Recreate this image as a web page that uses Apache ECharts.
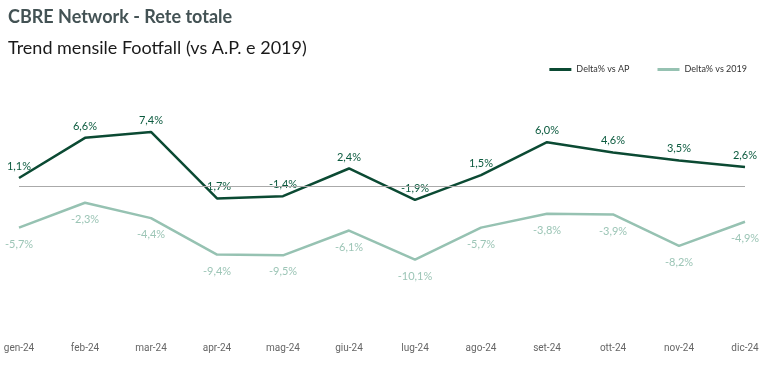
<!DOCTYPE html>
<html>
<head>
<meta charset="utf-8">
<script src="https://cdn.jsdelivr.net/npm/echarts@6/dist/echarts.min.js"></script>
<style>
  html, body { margin: 0; padding: 0; background: #fff; }
  #chart { width: 772px; height: 367px; }
</style>
</head>
<body>
<div id="chart"></div>
<script>
const months = ['gen-24', 'feb-24', 'mar-24', 'apr-24', 'mag-24', 'giu-24', 'lug-24', 'ago-24', 'set-24', 'ott-24', 'nov-24', 'dic-24']
const deltaAP = [1.1, 6.6, 7.4, -1.7, -1.4, 2.4, -1.9, 1.5, 6.0, 4.6, 3.5, 2.6]
const delta2019 = [-5.7, -2.3, -4.4, -9.4, -9.5, -6.1, -10.1, -5.7, -3.8, -3.9, -8.2, -4.9]

const fmt = p => p.value.toFixed(1).replace('.', ',') + '%'

const myChart = echarts.init(document.getElementById('chart'))
myChart.setOption({
  animation: false,
  title: [
    {
      text: 'CBRE Network - Rete totale',
      left: 3,
      top: 3,
      textStyle: { fontFamily: 'Lato', fontWeight: 'bold', fontSize: 18, color: '#435254' }
    },
    {
      text: 'Trend mensile Footfall (vs A.P. e 2019)',
      left: 3,
      top: 34,
      textStyle: { fontFamily: 'Lato', fontWeight: 'normal', fontSize: 18, color: '#1a1a1a' }
    }
  ],
  legend: {
    right: 20,
    top: 60,
    itemWidth: 22,
    itemHeight: 3,
    itemGap: 28,
    icon: 'rect',
    textStyle: { fontFamily: 'Lato', fontSize: 9, color: '#333' },
    data: ['Delta% vs AP', 'Delta% vs 2019']
  },
  grid: { left: 19, right: 27, top: 113, bottom: 35 },
  xAxis: {
    type: 'category',
    data: months,
    boundaryGap: false,
    axisLine: { show: false },
    axisTick: { show: false },
    axisLabel: { margin: 11, fontFamily: 'Roboto', fontSize: 10, color: '#666' }
  },
  yAxis: {
    type: 'value',
    min: -20,
    max: 10,
    show: false,
    splitLine: { show: false }
  },
  series: [
    {
      name: 'Delta% vs AP',
      type: 'line',
      data: deltaAP,
      symbol: 'circle',
      symbolSize: 0,
      lineStyle: { width: 2.5, color: '#0b4a33' },
      itemStyle: { color: '#0b4a33' },
      label: {
        show: true,
        position: 'top',
        distance: 6,
        formatter: fmt,
        fontFamily: 'Lato',
        fontSize: 11,
        color: '#0b5a3e'
      },
      markLine: {
        silent: true,
        symbol: 'none',
        label: { show: false },
        lineStyle: { color: '#aaaaaa', width: 1, type: 'solid' },
        data: [{ yAxis: 0 }]
      },
      z: 3
    },
    {
      name: 'Delta% vs 2019',
      type: 'line',
      data: delta2019,
      symbol: 'circle',
      symbolSize: 0,
      lineStyle: { width: 2.5, color: '#96c2b2' },
      itemStyle: { color: '#96c2b2' },
      label: {
        show: true,
        position: 'bottom',
        distance: 11,
        formatter: fmt,
        fontFamily: 'Lato',
        fontSize: 11,
        color: '#9cc5b6'
      }
    }
  ]
})
</script>
</body>
</html>
